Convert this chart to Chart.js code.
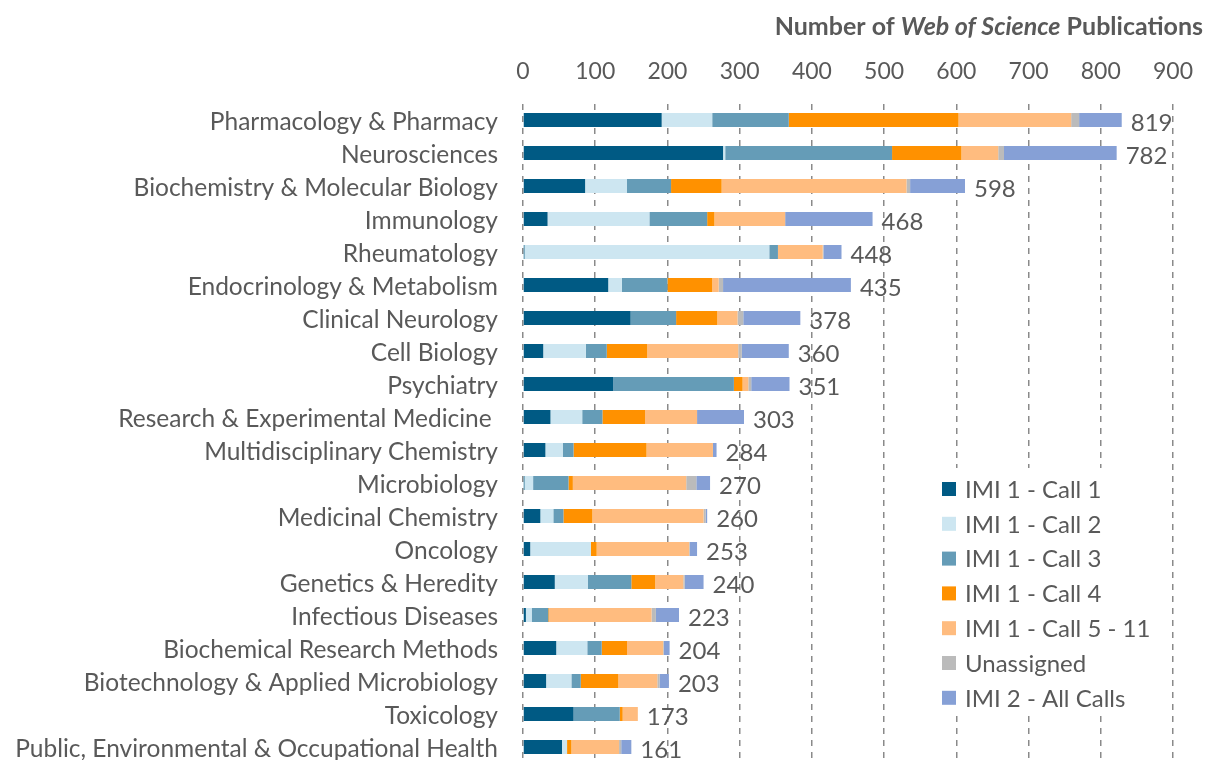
<!DOCTYPE html>
<html>
<head>
<meta charset="utf-8">
<script src="https://cdn.jsdelivr.net/npm/chart.js@4.4.1/dist/chart.umd.min.js"></script>
<style>
  html, body { margin: 0; padding: 0; background: #fff; overflow: hidden; }
  #wrap { width: 1205px; height: 770px; }
</style>
</head>
<body>
<div id="wrap"><canvas id="pubChart" width="1205" height="770"></canvas></div>
<script>
const categories = [
    'Pharmacology & Pharmacy', 'Neurosciences', 'Biochemistry & Molecular Biology',
    'Immunology', 'Rheumatology', 'Endocrinology & Metabolism', 'Clinical Neurology',
    'Cell Biology', 'Psychiatry', 'Research & Experimental Medicine ',
    'Multidisciplinary Chemistry', 'Microbiology', 'Medicinal Chemistry', 'Oncology',
    'Genetics & Heredity', 'Infectious Diseases', 'Biochemical Research Methods',
    'Biotechnology & Applied Microbiology', 'Toxicology',
    'Public, Environmental & Occupational Health'
];

// segment values (per category, same order)
const imi1Call1 = [192, 277, 86, 34, 2, 118, 149, 28, 125, 38, 31, 2, 24, 10, 44, 4, 46, 32, 70, 54];
const imi1Call2 = [70, 3, 58, 141, 339, 19, 0, 59, 0, 44, 24, 12, 18, 84, 46, 8, 43, 35, 0, 7];
const imi1Call3 = [106, 231, 61, 80, 12, 63, 63, 29, 167, 28, 15, 49, 14, 0, 60, 23, 20, 13, 64, 0];
const imi1Call4 = [235, 96, 70, 10, 0, 62, 57, 56, 12, 59, 101, 6, 40, 8, 33, 1, 35, 52, 4, 6];
const imi1Call5to11 = [156, 51, 256, 98, 62, 9, 28, 126, 8, 72, 92, 157, 154, 128, 39, 142, 50, 54, 21, 66];
const unassigned = [11, 8, 5, 0, 1, 6, 8, 5, 4, 0, 0, 14, 3, 1, 2, 6, 1, 3, 0, 3];
const imi2All = [59, 156, 76, 121, 25, 177, 79, 65, 53, 65, 5, 19, 2, 10, 26, 32, 8, 13, 0, 14];

// totals as printed next to each bar
const totals = [819, 782, 598, 468, 448, 435, 378, 360, 351, 303, 284, 270, 260, 253, 240, 223, 204, 203, 173, 161];

const seriesNames = ['IMI 1 - Call 1', 'IMI 1 - Call 2', 'IMI 1 - Call 3', 'IMI 1 - Call 4',
    'IMI 1 - Call 5 - 11', 'Unassigned', 'IMI 2 - All Calls'];
const seriesColors = ['#005A84', '#CDE6F1', '#659CB7', '#FF9100', '#FFBC7F', '#BBBBBB', '#86A0D6'];
const seriesData = [imi1Call1, imi1Call2, imi1Call3, imi1Call4, imi1Call5to11, unassigned, imi2All];

const xTicks = [0, 100, 200, 300, 400, 500, 600, 700, 800, 900];

const textColor = '#595959';
const fontFamily = 'Lato, "Open Sans", sans-serif';

// total labels at the end of each bar
const totalLabels = {
    id: 'totalLabels',
    afterDatasetsDraw(chart) {
        const ctx = chart.ctx;
        const xs = chart.scales.x;
        const ys = chart.scales.y;
        ctx.save();
        ctx.fillStyle = textColor;
        ctx.font = '24px ' + fontFamily;
        ctx.textAlign = 'left';
        ctx.textBaseline = 'middle';
        categories.forEach((c, i) => {
            const sum = seriesData.reduce((s, arr) => s + arr[i], 0);
            ctx.fillText(String(totals[i]), xs.getPixelForValue(sum) + 9, ys.getPixelForValue(i) + 3);
        });
        ctx.restore();
    }
};

// legend box over the lower right of the grid, and the axis title
const legendBox = {
    id: 'legendBox',
    afterDraw(chart) {
        const ctx = chart.ctx;
        ctx.save();
        ctx.fillStyle = '#fff';
        ctx.fillRect(934, 468, 226, 248);
        ctx.font = '24px ' + fontFamily;
        ctx.textBaseline = 'middle';
        chart.data.datasets.forEach((ds, i) => {
            const y = 489 + i * 34.8;
            ctx.fillStyle = ds.backgroundColor;
            ctx.fillRect(942, y - 7, 14, 14);
            ctx.fillStyle = textColor;
            ctx.fillText(ds.label, 965, y + 1);
        });

        // title with italic part
        const parts = [
            { t: 'Number of ', f: 'bold 25px ' + fontFamily },
            { t: 'Web of Science', f: 'italic bold 25px ' + fontFamily },
            { t: ' Publications', f: 'bold 25px ' + fontFamily }
        ];
        let w = 0;
        parts.forEach(p => { ctx.font = p.f; w += ctx.measureText(p.t).width; });
        let x = 1203 - w;
        ctx.fillStyle = textColor;
        ctx.textAlign = 'left';
        parts.forEach(p => {
            ctx.font = p.f;
            ctx.fillText(p.t, x, 27);
            x += ctx.measureText(p.t).width;
        });
        ctx.restore();
    }
};

const ctx = document.getElementById('pubChart').getContext('2d');
const pubChart = new Chart(ctx, {
    type: 'bar',
    data: {
        labels: categories,
        datasets: seriesNames.map((name, i) => ({
            label: name,
            data: seriesData[i],
            backgroundColor: seriesColors[i],
            borderWidth: 0,
            barPercentage: 0.43,
            categoryPercentage: 1
        }))
    },
    options: {
        indexAxis: 'y',
        responsive: false,
        animation: false,
        layout: { padding: { top: 0, right: 32, bottom: 6.5, left: 0 } },
        scales: {
            x: {
                position: 'top',
                stacked: true,
                min: 0,
                max: 900,
                afterBuildTicks: scale => { scale.ticks = xTicks.map(v => ({ value: v })); },
                afterFit: scale => {
                    scale.height = 103.5;
                    scale.paddingLeft = 0;
                    scale.paddingRight = 0;
                },
                ticks: {
                    color: textColor,
                    font: { family: fontFamily, size: 23 },
                    padding: 18,
                    maxRotation: 0
                },
                grid: {
                    color: '#8a8a8a',
                    lineWidth: 1.5,
                    drawTicks: false
                },
                border: { display: false, dash: [6, 6] }
            },
            y: {
                stacked: true,
                afterFit: scale => {
                    scale.width = 523;
                    scale.paddingTop = 0;
                    scale.paddingBottom = 0;
                },
                ticks: {
                    color: textColor,
                    font: { family: fontFamily, size: 24.5 },
                    padding: 25,
                    labelOffset: 2
                },
                grid: { display: false, drawTicks: false },
                border: { display: false }
            }
        },
        plugins: {
            legend: { display: false },
            tooltip: { enabled: false }
        }
    },
    plugins: [totalLabels, legendBox]
});
</script>
</body>
</html>
